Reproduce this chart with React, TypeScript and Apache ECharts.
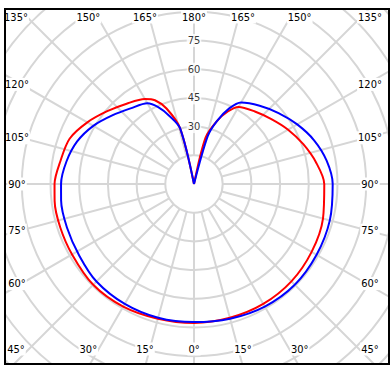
import React, { useEffect, useRef } from "react";
import * as echarts from "echarts";

// Geometry of the plot (pixels)
const CX = 194;
const CY = 184;
const PX_PER_UNIT = 1.913;
const R_MAX = 140;

// Radial tick labels shown along the 180° spoke
const radialLabelValues = [30, 45, 60, 75];

// Angle ticks (axis value, clockwise from bottom)
const angleTickValues = [0, 15, 30, 45, 60, 75, 90, 105, 120, 135, 150, 165, 180, 195, 210, 225, 240, 255, 270, 285, 300, 315, 330, 345];

// Red series: left half (angle from bottom, going up the left side)
const redLeftAngles = [0, 15, 30, 45, 60, 72, 83, 90, 100, 110, 120, 130, 140, 150, 155, 160, 166, 180];
const redLeftValues = [72.6, 72.9, 74.0, 74.5, 73.6, 73.5, 73.4, 72.9, 70.8, 69.2, 64.4, 59.2, 54.8, 51.3, 48.3, 42.0, 30.0, 0];
// Red series: right half (angle from bottom, going up the right side)
const redRightAngles = [0, 15, 30, 45, 60, 75, 90, 100, 110, 120, 130, 140, 150, 155, 160, 166, 180];
const redRightValues = [72.6, 72.4, 72.4, 72.0, 71.0, 69.8, 68.1, 64.8, 60.8, 56.8, 52.8, 49.5, 46.5, 41.8, 35.0, 25.0, 0];

// Blue series
const blueLeftAngles = [0, 15, 30, 45, 58, 71, 83, 90, 100, 110, 120, 130, 140, 150, 155, 160, 166, 180];
const blueLeftValues = [72.2, 72.4, 72.4, 72.1, 70.7, 70.2, 70.0, 69.5, 67.7, 65.0, 60.8, 55.8, 51.6, 48.7, 44.3, 38.0, 30.0, 0];
const blueRightAngles = [0, 15, 30, 45, 60, 75, 90, 100, 110, 120, 130, 140, 150, 155, 160, 164, 180];
const blueRightValues = [72.2, 72.9, 74.0, 74.5, 74.0, 73.5, 72.5, 70.4, 66.8, 62.3, 57.7, 53.4, 49.2, 43.6, 35.0, 26.0, 0];

const FONT_FAMILY = '"Liberation Sans Narrow", "DejaVu Sans Condensed", sans-serif';
const FONT = "11px " + FONT_FAMILY;

// Path order: cusp (top) -> right side down -> bottom -> left side up -> cusp
function buildSeries(la: number[], lv: number[], ra: number[], rv: number[]) {
  const right = ra.map((a, i) => [rv[i], 360 - a]).reverse();
  const left = la.map((a, i) => [lv[i], a]).slice(1);
  return right.concat(left);
}

function angleLabels() {
  return angleTickValues.map((a) => {
    const deg = a <= 180 ? a : 360 - a;
    const rad = (a * Math.PI) / 180;
    const vx = -Math.sin(rad);
    const vy = Math.cos(rad);
    let x: number;
    let y: number;
    if (Math.abs(vy) >= Math.abs(vx) - 1e-9) {
      y = vy < 0 ? 17 : 349;
      x = Math.min(370, Math.max(16, CX + (vx / Math.abs(vy)) * 183));
    } else {
      x = vx < 0 ? 17 : 370;
      y = CY + (vy / Math.abs(vx)) * 172.5;
    }
    return {
      type: "text",
      x,
      y,
      z: 101,
      style: {
        text: deg + "°",
        align: "center",
        verticalAlign: "middle",
        font: FONT,
        fill: "#000",
        backgroundColor: "#fff",
        padding: [1, 1],
      },
    };
  });
}

export default function App() {
  const ref = useRef<HTMLDivElement>(null);
  useEffect(() => {
    if (!ref.current) return;
    const chart = echarts.init(ref.current, undefined, { renderer: "svg" });
    const gridColor = "#d6d6d6";
    const option: any = {
      animation: false,
      backgroundColor: "#fff",
      polar: [
        { center: [CX, CY], radius: [15 * PX_PER_UNIT, R_MAX * PX_PER_UNIT] },
        { center: [CX, CY], radius: [0, R_MAX * PX_PER_UNIT] },
      ],
      angleAxis: [
        {
          polarIndex: 0,
          type: "value",
          min: 0,
          max: 360,
          interval: 15,
          startAngle: 270,
          clockwise: true,
          axisLine: { show: false },
          axisTick: { show: false },
          axisLabel: { show: false },
          splitLine: { show: true, lineStyle: { color: gridColor, width: 2 } },
        },
        {
          polarIndex: 1,
          type: "value",
          min: 0,
          max: 360,
          startAngle: 270,
          clockwise: true,
          axisLine: { show: false },
          axisTick: { show: false },
          axisLabel: { show: false },
          splitLine: { show: false },
        },
      ],
      radiusAxis: [
        {
          polarIndex: 0,
          type: "value",
          min: 15,
          max: R_MAX,
          interval: 15,
          axisLine: { show: false },
          axisTick: { show: false },
          axisLabel: { show: false },
          splitLine: { show: true, lineStyle: { color: gridColor, width: 2 } },
        },
        {
          polarIndex: 1,
          type: "value",
          min: 0,
          max: R_MAX,
          axisLine: { show: false },
          axisTick: { show: false },
          axisLabel: { show: false },
          splitLine: { show: false },
        },
      ],
      series: [
        {
          type: "scatter",
          coordinateSystem: "polar",
          polarIndex: 1,
          symbolSize: 1,
          itemStyle: { color: "rgba(0,0,0,0)" },
          z: 3,
          silent: true,
          data: radialLabelValues.map((v) => [v, 180]),
          label: {
            show: true,
            position: "inside",
            formatter: (p: any) => String(p.value[0]),
            fontSize: 11,
            fontFamily: FONT_FAMILY,
            color: "#000",
            backgroundColor: "#fff",
            padding: [1, 1],
          },
        },
        {
          type: "line",
          coordinateSystem: "polar",
          polarIndex: 1,
          showSymbol: false,
          smooth: 0.3,
          z: 4,
          lineStyle: { color: "#ff0000", width: 2 },
          itemStyle: { color: "#ff0000" },
          data: buildSeries(redLeftAngles, redLeftValues, redRightAngles, redRightValues),
        },
        {
          type: "line",
          coordinateSystem: "polar",
          polarIndex: 1,
          showSymbol: false,
          smooth: 0.3,
          z: 5,
          lineStyle: { color: "#0000ff", width: 2 },
          itemStyle: { color: "#0000ff" },
          data: buildSeries(blueLeftAngles, blueLeftValues, blueRightAngles, blueRightValues),
        },
      ],
      graphic: [
        { type: "rect", z: 100, shape: { x: 0, y: 0, width: 392, height: 8 }, style: { fill: "#fff" } },
        { type: "rect", z: 100, shape: { x: 0, y: 365, width: 392, height: 3 }, style: { fill: "#fff" } },
        { type: "rect", z: 100, shape: { x: 0, y: 0, width: 4, height: 368 }, style: { fill: "#fff" } },
        { type: "rect", z: 100, shape: { x: 390, y: 0, width: 2, height: 368 }, style: { fill: "#fff" } },
        ...angleLabels(),
        {
          type: "rect",
          z: 102,
          shape: { x: 5, y: 9, width: 384, height: 355 },
          style: { fill: "none", stroke: "#000", lineWidth: 2 },
        },
      ],
    };
    chart.setOption(option);
    return () => chart.dispose();
  }, []);
  return (
    <div
      ref={ref}
      style={{ position: "fixed", left: 0, top: 0, width: 392, height: 368 }}
    />
  );
}
